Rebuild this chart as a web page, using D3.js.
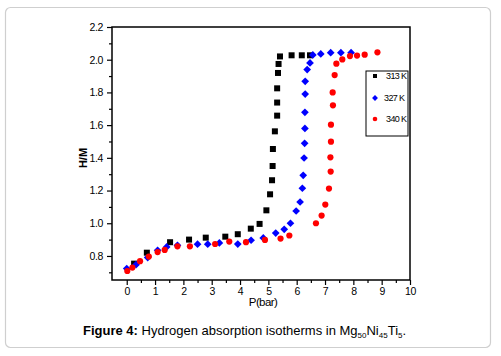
<!DOCTYPE html>
<html lang="en">
<head>
<meta charset="utf-8">
<script src="https://d3js.org/d3.v7.min.js"></script>
<style>
  body { margin: 0; background: #fff; font-family: "Liberation Sans", Arial, sans-serif; }
</style>
</head>
<body>
<script>
// data: P (bar) and H/M for each temperature
const p313 = [0.26, 0.71, 1.53, 2.2, 2.79, 3.48, 3.92, 4.38, 4.69, 4.93, 5.06, 5.13, 5.15, 5.16, 5.23, 5.31, 5.31, 5.31, 5.34, 5.36, 5.41, 5.82, 6.18, 6.47];
const hm313 = [0.753, 0.82, 0.884, 0.90, 0.912, 0.918, 0.933, 0.967, 0.996, 1.079, 1.177, 1.263, 1.35, 1.454, 1.562, 1.658, 1.738, 1.825, 1.919, 1.974, 2.02, 2.027, 2.027, 2.027];

const p327 = [0, 0.33, 0.74, 1.09, 1.41, 1.79, 2.5, 2.86, 3.27, 3.92, 4.39, 4.82, 5.26, 5.56, 5.78, 5.98, 6.12, 6.2, 6.23, 6.26, 6.28, 6.29, 6.29, 6.3, 6.3, 6.37, 6.47, 6.57, 6.85, 7.2, 7.56, 7.92];
const hm327 = [0.723, 0.747, 0.79, 0.835, 0.855, 0.865, 0.872, 0.872, 0.88, 0.873, 0.896, 0.91, 0.94, 0.963, 1.0, 1.075, 1.13, 1.214, 1.293, 1.399, 1.489, 1.58, 1.678, 1.79, 1.868, 1.94, 1.98, 2.029, 2.035, 2.043, 2.043, 2.043];

const p340 = [0.02, 0.2, 0.47, 0.78, 1.09, 1.34, 1.79, 2.23, 3.12, 3.62, 4.21, 4.88, 5.43, 5.74, 6.68, 6.88, 7.01, 7.14, 7.2, 7.19, 7.21, 7.21, 7.28, 7.27, 7.34, 7.4, 7.61, 7.88, 8.13, 8.4, 8.85];
const hm340 = [0.708, 0.729, 0.768, 0.796, 0.824, 0.837, 0.859, 0.859, 0.873, 0.888, 0.884, 0.898, 0.906, 0.925, 1.0, 1.047, 1.114, 1.212, 1.316, 1.403, 1.499, 1.603, 1.721, 1.80, 1.906, 1.976, 2.002, 2.022, 2.025, 2.031, 2.045];

const xTicks = [0, 1, 2, 3, 4, 5, 6, 7, 8, 9, 10];
const yTicks = [0.8, 1.0, 1.2, 1.4, 1.6, 1.8, 2.0, 2.2];
const seriesNames = ["313 K", "327 K", "340 K"];

const width = 501, height = 356;
const plot = { left: 112, top: 27, right: 410, bottom: 280 };

const svg = d3.select("body").append("svg")
    .attr("width", width)
    .attr("height", height);

// rounded frame round the whole figure
svg.append("rect")
    .attr("x", 5.5).attr("y", 7.5)
    .attr("width", 485).attr("height", 340)
    .attr("rx", 5)
    .attr("fill", "none")
    .attr("stroke", "#cfcfcf")
    .attr("stroke-width", 1.2);

const x = d3.scaleLinear().domain([-0.52, 10]).range([plot.left, plot.right]);
const y = d3.scaleLinear().domain([0.653, 2.2]).range([plot.bottom, plot.top]);

// minor ticks first, majors on top
svg.append("g")
    .attr("transform", "translate(0," + plot.bottom + ")")
    .call(d3.axisBottom(x).tickValues(d3.range(0.5, 10, 1)).tickSize(3).tickFormat(""))
    .call(g => g.select(".domain").remove());
svg.append("g")
    .attr("transform", "translate(" + plot.left + ",0)")
    .call(d3.axisLeft(y).tickValues(d3.range(0.7, 2.2, 0.2)).tickSize(3).tickFormat(""))
    .call(g => g.select(".domain").remove());

const xAxis = svg.append("g")
    .attr("transform", "translate(0," + plot.bottom + ")")
    .call(d3.axisBottom(x).tickValues(xTicks).tickSize(5).tickPadding(3).tickFormat(d3.format("d")));
const yAxis = svg.append("g")
    .attr("transform", "translate(" + plot.left + ",0)")
    .call(d3.axisLeft(y).tickValues(yTicks).tickSize(5).tickPadding(4).tickFormat(d3.format(".1f")));

[xAxis, yAxis].forEach(a => {
    a.select(".domain").remove();
    a.selectAll("text")
        .attr("fill", "#000")
        .style("font-family", "'Liberation Sans', Arial, sans-serif")
        .style("font-size", "10.5px")
        .style("letter-spacing", "-0.4px");
});
svg.selectAll("g.tick line").attr("stroke", "#000").attr("stroke-width", 1.2);

// box round the plot
svg.append("rect")
    .attr("x", plot.left).attr("y", plot.top)
    .attr("width", plot.right - plot.left).attr("height", plot.bottom - plot.top)
    .attr("fill", "none").attr("stroke", "#000").attr("stroke-width", 1.5);

// axis titles
svg.append("text")
    .attr("transform", "translate(87," + 158 + ") rotate(-90)")
    .attr("text-anchor", "middle")
    .style("font-size", "11px")
    .style("font-weight", "bold")
    .text("H/M");
svg.append("text")
    .attr("x", 263).attr("y", 306)
    .attr("text-anchor", "middle")
    .style("font-size", "11.5px")
    .style("letter-spacing", "-0.6px")
    .text("P(bar)");

// markers
const plotArea = svg.append("g");
plotArea.selectAll(".sq")
    .data(d3.zip(p313, hm313))
    .join("rect")
    .attr("x", d => x(d[0]) - 3)
    .attr("y", d => y(d[1]) - 3)
    .attr("width", 6).attr("height", 6)
    .attr("fill", "#000");

const diamond = d3.symbol().type(d3.symbolDiamond2).size(38);
const dots = plotArea.append("g");
dots.selectAll(".dm")
    .data(d3.zip(p327, hm327))
    .join("path")
    .attr("d", diamond)
    .attr("transform", d => "translate(" + x(d[0]) + "," + y(d[1]) + ")")
    .attr("fill", "#0000ff");

dots.selectAll(".ci")
    .data(d3.zip(p340, hm340))
    .join("circle")
    .attr("cx", d => x(d[0]))
    .attr("cy", d => y(d[1]))
    .attr("r", 3.1)
    .attr("fill", "#ff0000");

// legend
const legend = svg.append("g");
legend.append("rect")
    .attr("x", 366).attr("y", 71)
    .attr("width", 42).attr("height", 65)
    .attr("fill", "#fff").attr("stroke", "#000").attr("stroke-width", 1);
const legY = [76, 98, 119];
legend.append("rect").attr("x", 373).attr("y", legY[0] - 2).attr("width", 4).attr("height", 4).attr("fill", "#000");
legend.append("path").attr("d", d3.symbol().type(d3.symbolDiamond2).size(22))
    .attr("transform", "translate(375," + legY[1] + ")").attr("fill", "#0000ff");
legend.append("circle").attr("cx", 375).attr("cy", legY[2]).attr("r", 2.3).attr("fill", "#ff0000");
legend.selectAll(".lt")
    .data(seriesNames)
    .join("text")
    .attr("x", (d, i) => i === 1 ? 384 : 386)
    .attr("y", (d, i) => legY[i] + 3)
    .style("font-size", "9px")
    .style("letter-spacing", "-0.6px")
    .text(d => d);

// caption
const cap = svg.append("text")
    .attr("x", 83).attr("y", 335)
    .style("font-size", "13px");
cap.append("tspan").style("font-weight", "bold").text("Figure 4:");
cap.append("tspan").text(" Hydrogen absorption isotherms in Mg");
cap.append("tspan").attr("dy", 3).style("font-size", "8px").text("50");
cap.append("tspan").attr("dy", -3).text("Ni");
cap.append("tspan").attr("dy", 3).style("font-size", "8px").text("45");
cap.append("tspan").attr("dy", -3).text("Ti");
cap.append("tspan").attr("dy", 3).style("font-size", "8px").text("5");
cap.append("tspan").attr("dy", -3).text(".");
</script>
</body>
</html>
